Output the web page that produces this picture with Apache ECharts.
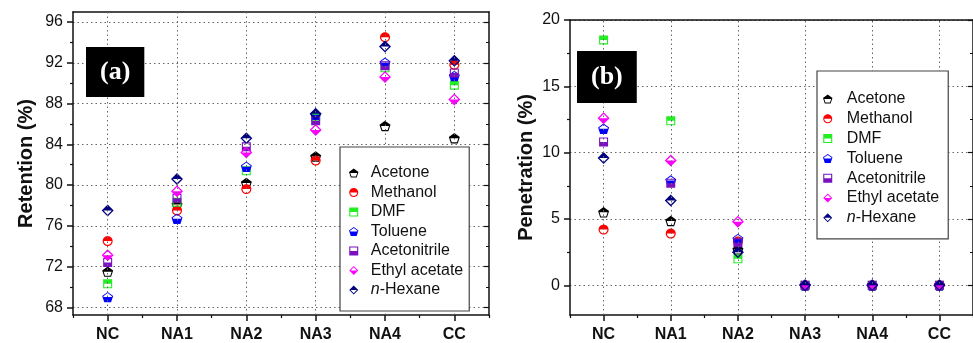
<!DOCTYPE html>
<html><head><meta charset="utf-8">
<script src="https://cdn.jsdelivr.net/npm/echarts@6/dist/echarts.min.js"></script>
<style>html,body{margin:0;padding:0;background:#fff}#c{width:973px;height:343px}</style>
</head><body><div id="c"></div>
<script>
// ---------- data ----------
const categories = ['NC', 'NA1', 'NA2', 'NA3', 'NA4', 'CC'];
const solventNames = ['Acetone', 'Methanol', 'DMF', 'Toluene', 'Acetonitrile', 'Ethyl acetate', 'n-Hexane'];

const retentionAcetone      = [71.5, 78.1, 80.2, 82.8, 85.8, 84.6];
const retentionMethanol     = [74.5, 77.5, 79.6, 82.4, 94.5, 91.8];
const retentionDMF          = [70.3, 78.3, 81.4, 86.7, 91.5, 89.8];
const retentionToluene      = [69.0, 76.7, 81.8, 86.9, 92.0, 90.7];
const retentionAcetonitrile = [72.4, 78.7, 83.75, 86.3, 91.7, 91.0];
const retentionEthylAcetate = [73.1, 79.4, 83.2, 85.4, 90.6, 88.4];
const retentionHexane       = [77.5, 80.6, 84.6, 87.0, 93.6, 92.2];

const penetrationAcetone      = [5.5, 4.85, 2.7, 0, 0, 0];
const penetrationMethanol     = [4.2, 3.9, 3.3, 0, 0, 0];
const penetrationDMF          = [18.5, 12.4, 2.0, 0, 0, 0];
const penetrationToluene      = [11.8, 7.9, 3.5, 0, 0, 0];
const penetrationAcetonitrile = [10.8, 7.7, 3.2, 0, 0, 0];
const penetrationEthylAcetate = [12.6, 9.4, 4.8, 0, 0, 0];
const penetrationHexane       = [9.6, 6.4, 2.5, 0, 0, 0];

const retentionTicks   = [68, 72, 76, 80, 84, 88, 92, 96];
const penetrationTicks = [0, 5, 10, 15, 20];

const retentionSeries = [retentionAcetone, retentionMethanol, retentionDMF, retentionToluene,
  retentionAcetonitrile, retentionEthylAcetate, retentionHexane];
const penetrationSeries = [penetrationAcetone, penetrationMethanol, penetrationDMF, penetrationToluene,
  penetrationAcetonitrile, penetrationEthylAcetate, penetrationHexane];

// ---------- style ----------
const FONT = 'Liberation Sans, Arial, sans-serif';
const colors = ['#000000', '#ff0000', '#22ee22', '#0000ff', '#7a10c0', '#ff00ff', '#000080'];
const shapes = [
  {kind: 'pentagon', half: 'top',    size: 11, ring: 0.22},
  {kind: 'circle',   half: 'top',    size: 10, ring: 0.24},
  {kind: 'square',   half: 'top',    size: 9,  ring: 0.24},
  {kind: 'pentagon', half: 'bottom', size: 11, ring: 0.22},
  {kind: 'square',   half: 'bottom', size: 9,  ring: 0.24},
  {kind: 'diamond',  half: 'bottom', size: 12, ring: 0.3},
  {kind: 'diamond',  half: 'top',    size: 12, ring: 0.3}
];

function shapePoints(kind) {
  const pts = [];
  if (kind === 'circle') {
    for (let i = 0; i < 36; i++) { const a = -Math.PI / 2 + i * 2 * Math.PI / 36; pts.push([Math.cos(a), Math.sin(a)]); }
  } else if (kind === 'pentagon') {
    for (let i = 0; i < 5; i++) { const a = -Math.PI / 2 + i * 2 * Math.PI / 5; pts.push([Math.cos(a), Math.sin(a)]); }
  } else if (kind === 'square') {
    pts.push([-1, -1], [1, -1], [1, 1], [-1, 1]);
  } else {
    pts.push([0, -1], [1, 0], [0, 1], [-1, 0]);
  }
  const ys = pts.map(p => p[1]);
  const cy = (Math.min(...ys) + Math.max(...ys)) / 2;
  return pts.map(p => [p[0], p[1] - cy]);
}
function halfSymbol(s) {
  const outer = shapePoints(s.kind);
  const inner = outer.map(p => [p[0] * (1 - s.ring), p[1] * (1 - s.ring)]).reverse();
  const keep = s.half === 'top' ? (p => p[1] <= 0) : (p => p[1] >= 0);
  const part = [];
  for (let i = 0; i < outer.length; i++) {
    const a = outer[i], b = outer[(i + 1) % outer.length];
    const ia = keep(a), ib = keep(b);
    if (ia) part.push(a);
    if (ia !== ib) { const t = a[1] / (a[1] - b[1]); part.push([a[0] + t * (b[0] - a[0]), 0]); }
  }
  const fmt = pts => 'M' + pts.map(p => (p[0] * 10 + 10).toFixed(3) + ' ' + (p[1] * 10 + 10).toFixed(3)).join(' L') + ' Z';
  return 'path://' + fmt(outer) + ' ' + fmt(inner) + ' ' + fmt(part);
}
const symbols = shapes.map(halfSymbol);

const gridLine = {show: true, lineStyle: {color: '#666', type: [1.5, 3], width: 1}};
const axisLineStyle = {show: true, lineStyle: {color: '#111', width: 1.5}};

function panel(p) {
  const xAxes = [
    {gridIndex: p.fg, type: 'category', data: categories, position: 'bottom',
     axisLine: axisLineStyle,
     axisTick: {show: true, alignWithLabel: true, length: 6, lineStyle: {color: '#111', width: 1.5}},
     axisLabel: {fontFamily: FONT, fontWeight: 'bold', fontSize: 16, color: '#111', margin: 12},
     splitLine: {show: false}},
    {gridIndex: p.fg, type: 'category', data: categories, position: 'bottom',
     axisLine: {show: false},
     axisTick: {show: true, length: 3, lineStyle: {color: '#111', width: 1.2}},
     axisLabel: {show: false}, splitLine: {show: false}},
    {gridIndex: p.fg, type: 'category', data: categories, position: 'top',
     axisLine: axisLineStyle, axisTick: {show: false}, axisLabel: {show: false}, splitLine: {show: false}},
    {gridIndex: p.dg, type: 'category', data: categories, show: false}
  ];
  const ticks = p.ticks;
  const yAxes = [
    {gridIndex: p.fg, type: 'value', min: 0, max: 1, position: 'left',
     name: p.title, nameLocation: 'middle', nameGap: p.nameGap,
     nameTextStyle: {fontFamily: FONT, fontWeight: 'bold', fontSize: 20, color: '#111'},
     axisLine: axisLineStyle, axisTick: {show: false}, axisLabel: {show: false}, splitLine: {show: false}},
    {gridIndex: p.fg, type: 'value', min: 0, max: 1, position: 'right',
     axisLine: axisLineStyle, axisTick: {show: false}, axisLabel: {show: false}, splitLine: {show: false}},
    {gridIndex: p.dg, type: 'value', position: 'left',
     min: ticks[0], max: ticks[ticks.length - 1], interval: ticks[1] - ticks[0],
     axisLine: {show: false},
     axisTick: {show: true, length: 6, lineStyle: {color: '#111', width: 1.5}},
     minorTick: {show: true, splitNumber: 2, length: 3, lineStyle: {color: '#111', width: 1.2}},
     axisLabel: {fontFamily: FONT, fontSize: 16, color: '#111', margin: 10},
     splitLine: gridLine},
    {gridIndex: p.dg, type: 'value', position: 'right',
     min: ticks[0], max: ticks[ticks.length - 1], interval: ticks[1] - ticks[0],
     axisLine: {show: false},
     axisTick: {show: true, inside: true, length: 5, lineStyle: {color: '#111', width: 1.2}},
     minorTick: {show: true, splitNumber: 2, length: 3, lineStyle: {color: '#111', width: 1}},
     axisLabel: {show: false}, splitLine: {show: false}}
  ];
  return {xAxes, yAxes};
}

const grids = [
  {left: 73, top: 12, width: 416, height: 306},
  {left: 73, top: 22, width: 416, height: 285.3},
  {left: 570, top: 20, width: 406, height: 298},
  {left: 570, top: 20, width: 406, height: 265.3}
];

const pa = panel({fg: 0, dg: 1, ticks: retentionTicks, title: 'Retention (%)', nameGap: 37});
const pb = panel({fg: 2, dg: 3, ticks: penetrationTicks, title: 'Penetration (%)', nameGap: 34});
const xAxis = pa.xAxes.concat(pb.xAxes);
const yAxis = pa.yAxes.concat(pb.yAxes);

function vLines(xIdx, yIdx) {
  return {type: 'scatter', xAxisIndex: xIdx, yAxisIndex: yIdx, data: [], silent: true, z: 1,
    markLine: {silent: true, symbol: ['none', 'none'], label: {show: false}, animation: false,
      lineStyle: {color: '#666', type: [1.5, 3], width: 1},
      emphasis: {disabled: true},
      data: categories.map(c => ({xAxis: c}))}};
}
function scatterSeries(list, xIdx, yIdx) {
  return list.map((vals, i) => ({
    name: solventNames[i], type: 'scatter', xAxisIndex: xIdx, yAxisIndex: yIdx,
    data: vals.map((v, j) => [categories[j], v]),
    symbol: symbols[i], symbolSize: shapes[i].size, symbolKeepAspect: true,
    itemStyle: {color: colors[i], opacity: 1}, emphasis: {disabled: true}, z: 3
  }));
}

const series = [vLines(0, 0), vLines(4, 4)]
  .concat(scatterSeries(retentionSeries, 3, 2))
  .concat(scatterSeries(penetrationSeries, 7, 6));

function legend(left, top, padding, itemWidth, itemGap) {
  return {
    orient: 'vertical', left, top, padding, itemWidth, itemHeight: 9, itemGap,
    borderColor: '#444', borderWidth: 1.2, backgroundColor: '#fff', selectedMode: false,
    data: solventNames.map((n, i) => ({name: n, icon: symbols[i]})),
    formatter: n => n === 'n-Hexane' ? '{i|n}-Hexane' : n,
    textStyle: {fontFamily: FONT, fontSize: 16, color: '#111', lineHeight: 16,
      rich: {i: {fontFamily: FONT, fontSize: 16, fontStyle: 'italic', color: '#111', lineHeight: 16}}},
    z: 10
  };
}

const boxText = {color: '#fff', fontFamily: 'Liberation Serif, Times New Roman, serif', fontWeight: 'bold', fontSize: 26, lineHeight: 26};

const option = {
  animation: false,
  backgroundColor: '#fff',
  title: [
    {text: '(a)', left: 86, top: 47, padding: [12, 14, 12, 14], backgroundColor: '#000', textStyle: boxText},
    {text: '(b)', left: 577, top: 51, padding: [13, 14, 13, 14], backgroundColor: '#000', textStyle: boxText}
  ],
  legend: [
    legend(340, 147, [18, 6, 13, 9], 24, 3.5),
    legend(817, 71, [20, 9, 13, 6], 28, 3.8)
  ],
  grid: grids,
  xAxis, yAxis, series
};

const chart = echarts.init(document.getElementById('c'), null, {renderer: 'canvas'});
chart.setOption(option);
</script></body></html>
